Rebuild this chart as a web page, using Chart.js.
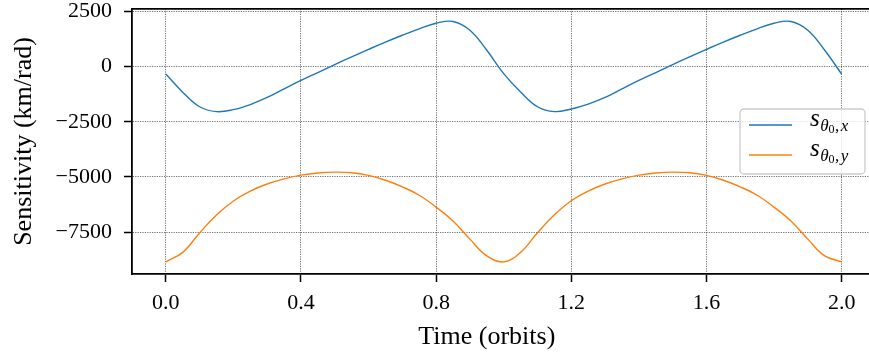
<!DOCTYPE html>
<html>
<head>
<meta charset="utf-8">
<script src="https://cdn.jsdelivr.net/npm/chart.js@4.4.1/dist/chart.umd.min.js"></script>
<style>
  html, body { margin: 0; padding: 0; background: #fff; }
  canvas { display: block; }
</style>
</head>
<body>
<canvas id="chart" width="869" height="356"></canvas>
<script>
'use strict';

// time in orbits, one sample every 0.05
const TIMES = [
  0.00, 0.05, 0.10, 0.15, 0.20, 0.25, 0.30, 0.35, 0.40, 0.45,
  0.50, 0.55, 0.60, 0.65, 0.70, 0.75, 0.80, 0.85, 0.90, 0.95,
  1.00, 1.05, 1.10, 1.15, 1.20, 1.25, 1.30, 1.35, 1.40, 1.45,
  1.50, 1.55, 1.60, 1.65, 1.70, 1.75, 1.80, 1.85, 1.90, 1.95,
  2.00
];

// sensitivity in km/rad
const SENS_X = [
  -340, -1160, -1820, -2040, -1950, -1720, -1400, -1010, -630, -270,
    90,   440,   780,  1110,  1420,  1710,  1965, 2045, 1650,  740,
  -320, -1150, -1820, -2040, -1920, -1700, -1400, -1010, -630, -270,
    90,   440,   780,  1110,  1420,  1710,  1965, 2045, 1650,  740,
  -340
];
const SENS_Y = [
  -8850, -8420, -7540, -6730, -6090, -5640, -5320, -5090, -4920, -4820,
  -4785, -4810, -4930, -5150, -5450, -5830, -6370, -7000, -7820, -8580,
  -8850, -8420, -7530, -6720, -6080, -5640, -5320, -5090, -4920, -4820,
  -4785, -4810, -4930, -5150, -5450, -5830, -6370, -7000, -7820, -8580,
  -8850
];

const X_TICKS = [0.0, 0.4, 0.8, 1.2, 1.6, 2.0];
const Y_TICKS = [-7500, -5000, -2500, 0, 2500];

const SERIES_SUBS = ['x', 'y'];   // s_{theta_0, x} / s_{theta_0, y}
const X_LABEL = 'Time (orbits)';
const Y_LABEL = 'Sensitivity (km/rad)';

const SERIF = "'Liberation Serif', 'DejaVu Serif', serif";

// ── helpers ──────────────────────────────────────────────────────────────────

function fmtY(v) {
  return v < 0 ? '\u2212' + Math.abs(v) : String(v);
}

function drawMathLabel(ctx, sub, x, y) {
  // s_{\theta_0, sub}
  ctx.fillStyle = '#000';
  ctx.textBaseline = 'alphabetic';
  ctx.textAlign = 'left';
  ctx.font = `italic 25px ${SERIF}`;
  ctx.fillText('s', x, y);
  x += ctx.measureText('s').width + 0.5;
  ctx.font = `italic 17px ${SERIF}`;
  ctx.fillText('\u03b8', x, y + 5);
  x += ctx.measureText('\u03b8').width;
  ctx.font = `12px ${SERIF}`;
  ctx.fillText('0', x, y + 7);
  x += ctx.measureText('0').width + 0.5;
  ctx.font = `17px ${SERIF}`;
  ctx.fillText(',', x, y + 5);
  x += ctx.measureText(',').width + 1.5;
  ctx.font = `italic 17px ${SERIF}`;
  ctx.fillText(sub, x, y + 5);
}

// ── plugins: math legend + x-axis label ──────────────────────────────────────

const mathLegend = {
  id: 'mathLegend',
  afterDraw(chart) {
    const { ctx, chartArea: a } = chart;
    const w = 125, h = 65;
    const x0 = a.right - 4 - w;
    const y0 = (a.top + a.bottom) / 2 - h / 2;
    ctx.save();
    ctx.beginPath();
    ctx.roundRect(x0, y0, w, h, 4);
    ctx.fillStyle = 'rgba(255,255,255,0.8)';
    ctx.fill();
    ctx.strokeStyle = '#cccccc';
    ctx.lineWidth = 1.3;
    ctx.stroke();
    chart.data.datasets.forEach((ds, i) => {
      const yy = y0 + 16 + i * 30;
      ctx.beginPath();
      ctx.moveTo(x0 + 9, yy);
      ctx.lineTo(x0 + 52, yy);
      ctx.strokeStyle = ds.borderColor;
      ctx.lineWidth = ds.borderWidth;
      ctx.stroke();
      drawMathLabel(ctx, SERIES_SUBS[i], x0 + 70, yy + 1);
    });
    ctx.restore();
  }
};

const xAxisLabel = {
  id: 'xAxisLabel',
  afterDraw(chart) {
    const { ctx, chartArea: a, scales } = chart;
    const cx = (a.left + scales.x.getPixelForValue(X_TICKS[X_TICKS.length - 1])) / 2;
    ctx.save();
    ctx.font = `26px ${SERIF}`;
    ctx.fillStyle = '#000';
    ctx.textAlign = 'center';
    ctx.textBaseline = 'alphabetic';
    ctx.fillText(X_LABEL, cx, 344);
    ctx.restore();
  }
};

// ── chart ────────────────────────────────────────────────────────────────────

const gridStyle = {
  color: 'rgba(30,30,30,0.8)',
  lineWidth: 0.8,
  tickColor: '#000',
  tickWidth: 1.5,
  tickLength: 8,
  tickBorderDash: [],
};
const borderStyle = { color: '#000', width: 1.8, dash: [1.2, 1.2] };

const lineStyle = {
  borderWidth: 1.4,
  pointRadius: 0,
  tension: 0.4,
  fill: false,
};

new Chart(document.getElementById('chart'), {
  type: 'line',
  data: {
    datasets: [
      {
        label: 's_x',
        data: TIMES.map((t, i) => ({ x: t, y: SENS_X[i] })),
        borderColor: '#1f77b4',
        ...lineStyle,
      },
      {
        label: 's_y',
        data: TIMES.map((t, i) => ({ x: t, y: SENS_Y[i] })),
        borderColor: '#ff7f0e',
        ...lineStyle,
      },
    ]
  },
  options: {
    responsive: false,
    animation: false,
    devicePixelRatio: 1,
    layout: { padding: { top: 9, right: 0, bottom: 0, left: 0 } },
    plugins: { legend: { display: false }, tooltip: { enabled: false } },
    scales: {
      x: {
        type: 'linear',
        position: 'bottom',
        min: -0.1,
        max: 2.081,
        afterBuildTicks: s => { s.ticks = X_TICKS.map(v => ({ value: v })); },
        afterFit: s => { s.height = 82; s.paddingLeft = 0; s.paddingRight = 0; },
        ticks: {
          color: '#000',
          font: { family: SERIF, size: 22 },
          padding: 8,
          maxRotation: 0,
          callback: v => v.toFixed(1),
        },
        grid: gridStyle,
        border: borderStyle,
      },
      xTop: {
        type: 'linear',
        position: 'top',
        ticks: { display: false },
        grid: { display: false, drawTicks: false },
        border: { display: true, color: '#000', width: 1.8 },
        afterFit: s => { s.height = 0; s.paddingLeft = 0; s.paddingRight = 0; },
      },
      y: {
        type: 'linear',
        position: 'left',
        min: -9400,
        max: 2610,
        afterBuildTicks: s => { s.ticks = Y_TICKS.map(v => ({ value: v })); },
        afterFit: s => { s.width = 132; s.paddingTop = 0; s.paddingBottom = 0; },
        ticks: {
          color: '#000',
          font: { family: SERIF, size: 22 },
          padding: 12,
          callback: v => fmtY(v),
        },
        title: {
          display: true,
          text: Y_LABEL,
          color: '#000',
          font: { family: SERIF, size: 26 },
          padding: { top: 9, bottom: 0 },
        },
        grid: gridStyle,
        border: borderStyle,
      },
    }
  },
  plugins: [mathLegend, xAxisLabel]
});
</script>
</body>
</html>
